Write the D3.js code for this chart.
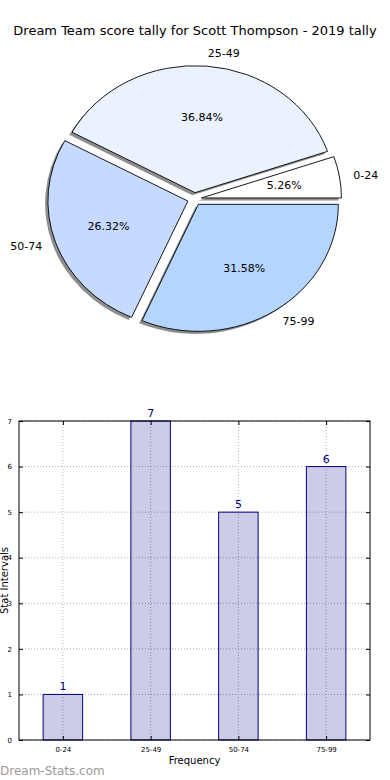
<!DOCTYPE html>
<html>
<head>
<meta charset="utf-8">
<script src="https://cdn.jsdelivr.net/npm/d3@7"></script>
<style>
  body { margin: 0; background: #fff; }
  text { font-family: "DejaVu Sans", sans-serif; }
</style>
</head>
<body>
<div id="canvas"></div>
<script>
const title = "Dream Team score tally for Scott Thompson - 2019 tally";
const categories = ["0-24", "25-49", "50-74", "75-99"];
const counts = [1, 7, 5, 6];
const yTicks = [0, 1, 2, 3, 4, 5, 6, 7];

const sliceColors = ["#ffffff", "#eaf2ff", "#c6daff", "#b4d5ff"];

const width = 390;
const height = 780;

const svg = d3.select("#canvas").append("svg")
  .attr("width", width)
  .attr("height", height);

svg.append("rect").attr("width", width).attr("height", height).attr("fill", "#fff");

svg.append("text")
  .attr("x", 195)
  .attr("y", 35)
  .attr("text-anchor", "middle")
  .style("font-size", "13px")
  .text(title);

// ---- pie (matplotlib style: starts at 3 o'clock, counter-clockwise, elliptical) ----
const cx = 194.5, cy = 199, rx = 140, ry = 127;
const explode = 0.05;
const total = d3.sum(counts);

const pie = d3.pie().sort(null).startAngle(0).endAngle(2 * Math.PI);
const slices = pie(counts).map((d, i) => {
  // convert ccw-from-east angles into d3's cw-from-north
  const mid = (d.startAngle + d.endAngle) / 2;
  return {
    i: i,
    value: d.value,
    start: Math.PI / 2 - d.endAngle,
    end: Math.PI / 2 - d.startAngle,
    mid: mid
  };
});

const arc = d3.arc().innerRadius(0).outerRadius(1);

const pieG = svg.append("g");

function sliceTransform(d, dx, dy) {
  const ox = cx + explode * rx * Math.cos(d.mid) + dx;
  const oy = cy - explode * ry * Math.sin(d.mid) + dy;
  return `translate(${ox},${oy}) scale(${rx},${ry})`;
}

// shadows
pieG.selectAll("path.shadow")
  .data(slices)
  .enter()
  .append("path")
  .attr("class", "shadow")
  .attr("d", (d) => arc({ startAngle: d.start, endAngle: d.end }))
  .attr("transform", (d) => sliceTransform(d, -0.02 * rx, 0.02 * ry))
  .attr("fill", "#8e8e8e");

pieG.selectAll("path.slice")
  .data(slices)
  .enter()
  .append("path")
  .attr("class", "slice")
  .attr("d", (d) => arc({ startAngle: d.start, endAngle: d.end }))
  .attr("transform", (d) => sliceTransform(d, 0, 0))
  .attr("fill", (d) => sliceColors[d.i])
  .attr("stroke", "#000")
  .attr("stroke-width", 0.9)
  .attr("vector-effect", "non-scaling-stroke");

// category labels at 1.1 r
pieG.selectAll("text.lab")
  .data(slices)
  .enter()
  .append("text")
  .attr("class", "lab")
  .attr("x", (d) => cx + (explode + 1.1) * rx * Math.cos(d.mid))
  .attr("y", (d) => cy - (explode + 1.1) * ry * Math.sin(d.mid))
  .attr("dy", "0.35em")
  .attr("text-anchor", (d) => (Math.cos(d.mid) > 0 ? "start" : "end"))
  .style("font-size", "11px")
  .text((d) => categories[d.i]);

// percent labels at 0.6 r
pieG.selectAll("text.pct")
  .data(slices)
  .enter()
  .append("text")
  .attr("class", "pct")
  .attr("x", (d) => cx + (explode + 0.6) * rx * Math.cos(d.mid))
  .attr("y", (d) => cy - (explode + 0.6) * ry * Math.sin(d.mid))
  .attr("dy", "0.35em")
  .attr("text-anchor", "middle")
  .style("font-size", "11px")
  .text((d) => d3.format(".2f")((d.value / total) * 100) + "%");

// ---- bar chart ----
const margin = { top: 421, left: 19, bottom: 40, right: 20 };
const iwidth = 370 - margin.left;
const iheight = 740 - margin.top;

const g = svg.append("g")
  .attr("transform", `translate(${margin.left},${margin.top})`);

const x = d3.scaleLinear().domain([-0.5, categories.length - 0.5]).range([0, iwidth]);
const y = d3.scaleLinear().domain([0, 7]).range([iheight, 0]);
const barW = 0.45;

// grid
g.selectAll("line.hgrid")
  .data(yTicks)
  .enter()
  .append("line")
  .attr("x1", 0).attr("x2", iwidth)
  .attr("y1", (d) => y(d)).attr("y2", (d) => y(d))
  .attr("stroke", "#b0b0b0")
  .attr("stroke-width", 1)
  .attr("stroke-dasharray", "1,2");

g.selectAll("line.vgrid")
  .data(categories)
  .enter()
  .append("line")
  .attr("x1", (d, i) => x(i)).attr("x2", (d, i) => x(i))
  .attr("y1", 0).attr("y2", iheight)
  .attr("stroke", "#b0b0b0")
  .attr("stroke-width", 1)
  .attr("stroke-dasharray", "1,2");

// bars
g.selectAll("rect.bar")
  .data(counts)
  .enter()
  .append("rect")
  .attr("class", "bar")
  .attr("x", (d, i) => x(i - barW / 2))
  .attr("y", (d) => y(d))
  .attr("width", x(barW) - x(0))
  .attr("height", (d) => iheight - y(d))
  .attr("fill", "navy")
  .attr("fill-opacity", 0.2)
  .attr("stroke", "navy")
  .attr("stroke-width", 1);

g.selectAll("text.val")
  .data(counts)
  .enter()
  .append("text")
  .attr("x", (d, i) => x(i))
  .attr("y", (d) => y(d) - 4)
  .attr("text-anchor", "middle")
  .attr("fill", "navy")
  .style("font-size", "11px")
  .text((d) => d);

// axes (ticks inside, like matplotlib classic)
const yAxis = d3.axisLeft(y).tickValues(yTicks).tickFormat(d3.format("d")).tickSize(-4).tickPadding(7);
const yAxisR = d3.axisRight(y).tickValues(yTicks).tickSize(-4).tickFormat("");
const xAxis = d3.axisBottom(x).tickValues(d3.range(categories.length))
  .tickFormat((i) => categories[i]).tickSize(-4).tickPadding(7);
const xAxisT = d3.axisTop(x).tickValues(d3.range(categories.length)).tickSize(-4).tickFormat("");

g.append("g").classed("y--axis", true).call(yAxis);
g.append("g").attr("transform", `translate(${iwidth},0)`).call(yAxisR);
g.append("g").classed("x--axis", true).attr("transform", `translate(0,${iheight})`).call(xAxis);
g.append("g").call(xAxisT);

g.selectAll(".domain").remove();
g.selectAll(".tick line").attr("stroke", "#000");
g.selectAll(".tick text").style("font-size", "7px").style("font-family", "DejaVu Sans").attr("fill", "#000");

g.append("rect")
  .attr("width", iwidth)
  .attr("height", iheight)
  .attr("fill", "none")
  .attr("stroke", "#000")
  .attr("stroke-width", 1);

svg.append("text")
  .attr("x", margin.left + iwidth / 2)
  .attr("y", 764)
  .attr("text-anchor", "middle")
  .style("font-size", "10px")
  .text("Frequency");

svg.append("text")
  .attr("transform", `translate(8,${margin.top + iheight / 2}) rotate(-90)`)
  .attr("text-anchor", "middle")
  .style("font-size", "10px")
  .text("Stat Intervals");

svg.append("text")
  .attr("x", 0)
  .attr("y", 775)
  .attr("fill", "#9a9a9a")
  .style("font-size", "12px")
  .text("Dream-Stats.com");
</script>
</body>
</html>
